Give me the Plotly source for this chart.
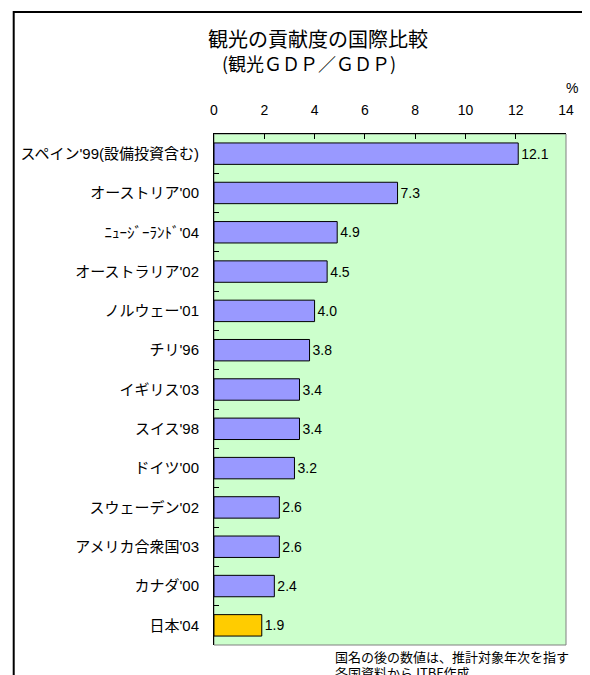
import plotly.graph_objects as go

categories = [
    "スペイン'99(設備投資含む)",
    "オーストリア'00",
    "ﾆｭｰｼﾞｰﾗﾝﾄﾞ'04",
    "オーストラリア'02",
    "ノルウェー'01",
    "チリ'96",
    "イギリス'03",
    "スイス'98",
    "ドイツ'00",
    "スウェーデン'02",
    "アメリカ合衆国'03",
    "カナダ'00",
    "日本'04",
]
values = [12.1, 7.3, 4.9, 4.5, 4.0, 3.8, 3.4, 3.4, 3.2, 2.6, 2.6, 2.4, 1.9]
highlight = "日本'04"
x_ticks = [0, 2, 4, 6, 8, 10, 12, 14]

title_text = "観光の貢献度の国際比較"
subtitle_text = "(観光ＧＤＰ／ＧＤＰ)"
unit_text = "%"
note_lines = ["国名の後の数値は、推計対象年次を指す", "各国資料からJTBF作成"]

FONT = "Liberation Sans, Arial, Noto Sans CJK JP, sans-serif"
CJK = "Noto Sans CJK JP, sans-serif"

# the page body has an 8px margin: work in screen pixels and shift
OFF = 8
W, H = 590 - OFF, 675 - OFF
L, R, T, B = 211 - OFF, 566 - OFF, 134 - OFF, 645 - OFF
pw, ph = R - L, B - T


def px(xs):
    return (xs - OFF - L) / pw


def py(ys):
    return (B - (ys - OFF)) / ph


colors = ["#FFCC00" if c == highlight else "#9999FF" for c in categories]

fig = go.Figure(
    go.Bar(
        x=values,
        y=categories,
        orientation="h",
        marker=dict(color=colors, line=dict(color="#000000", width=1)),
        text=values,
        texttemplate="%{x:.1f}",
        textposition="outside",
        textfont=dict(family=FONT, size=14, color="#000000"),
        cliponaxis=False,
    )
)

fig.update_layout(
    width=W,
    height=H,
    margin=dict(l=L, r=W - R, t=T, b=H - B, pad=0),
    paper_bgcolor="#FFFFFF",
    plot_bgcolor="#CCFFCC",
    showlegend=False,
    bargap=0.455,
    font=dict(family=FONT, size=14, color="#000000"),
    xaxis=dict(
        side="top",
        range=[0, 14],
        tickvals=x_ticks,
        ticks="inside",
        ticklen=5,
        tickcolor="#000000",
        showgrid=False,
        zeroline=False,
        showline=True,
        linecolor="#000000",
        linewidth=1,
        ticklabelstandoff=12,
        tickfont=dict(family=FONT, size=14, color="#000000"),
    ),
    yaxis=dict(
        autorange="reversed",
        type="category",
        tickson="boundaries",
        ticks="inside",
        ticklen=5,
        tickcolor="#000000",
        showgrid=False,
        zeroline=False,
        showline=True,
        linecolor="#000000",
        linewidth=1,
        ticklabelstandoff=11,
        tickfont=dict(family=FONT, size=15, color="#000000"),
    ),
)

# plot-area border (gray right/bottom)
fig.add_shape(type="rect", xref="paper", yref="paper", x0=0, x1=1, y0=0, y1=1,
              line=dict(color="#808080", width=1), layer="below")

# outer chart frame
fig.add_shape(
    type="path",
    xref="paper",
    yref="paper",
    path=f"M {px(9)} {py(700)} L {px(9)} {py(12)} L {px(620)} {py(12)}",
    line=dict(color="#000000", width=2),
)

fig.add_annotation(text=title_text, xref="paper", yref="paper", x=px(316), y=py(39),
                   xanchor="center", yanchor="middle", showarrow=False,
                   font=dict(family=CJK, size=20, color="#000000"))
fig.add_annotation(text=subtitle_text, xref="paper", yref="paper", x=px(307), y=py(63),
                   xanchor="center", yanchor="middle", showarrow=False,
                   font=dict(family=CJK, size=18, color="#000000"))
fig.add_annotation(text=unit_text, xref="paper", yref="paper", x=px(572), y=py(88),
                   xanchor="center", yanchor="middle", showarrow=False,
                   font=dict(family=FONT, size=14, color="#000000"))
fig.add_annotation(text=note_lines[0], xref="paper", yref="paper", x=px(331), y=py(656),
                   xanchor="left", yanchor="middle", showarrow=False,
                   font=dict(family=CJK, size=13, color="#000000"))
fig.add_annotation(text=note_lines[1], xref="paper", yref="paper", x=px(331), y=py(672),
                   xanchor="left", yanchor="middle", showarrow=False,
                   font=dict(family=CJK, size=13, color="#000000"))

fig.write_html("out.html")
